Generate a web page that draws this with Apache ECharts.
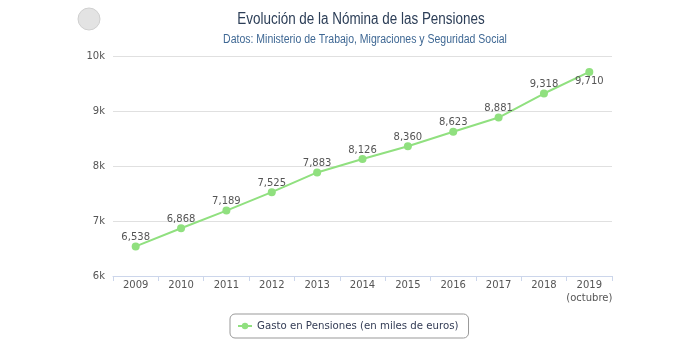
<!DOCTYPE html>
<html>
<head>
<meta charset="UTF-8">
<title>Nómina de las Pensiones</title>
<script src="https://cdn.jsdelivr.net/npm/echarts@6/dist/echarts.min.js"></script>
<style>
  body { margin: 0; background: #fff; }
  #main { width: 683px; height: 350px; }
</style>
</head>
<body>
<div id="main"></div>
<script>
var years = ['2009', '2010', '2011', '2012', '2013', '2014', '2015', '2016', '2017', '2018', '2019\n(octubre)'];
var gasto = [6538, 6868, 7189, 7525, 7883, 8126, 8360, 8623, 8881, 9318, 9710];
var yTicks = [6000, 7000, 8000, 9000, 10000];

var chart = echarts.init(document.getElementById('main'));

// el ultimo valor lleva la etiqueta debajo
var seriesData = gasto.map(function (v, i) {
  if (i === gasto.length - 1) {
    return { value: v, label: { position: 'bottom', distance: 0 } };
  }
  return v;
});

chart.setOption({
  animation: false,
  // titulos como texto estrechado (la fuente original es condensada)
  graphic: [{
    type: 'circle',
    shape: { cx: 89, cy: 19, r: 11 },
    style: { fill: '#e3e3e3', stroke: '#cfcfcf' }
  }, {
    type: 'text',
    x: 361, y: 20, scaleX: 0.84,
    style: {
      text: 'Evolución de la Nómina de las Pensiones',
      font: '16px "Liberation Sans"', fill: '#2c3e57',
      align: 'center', verticalAlign: 'middle'
    }
  }, {
    type: 'text',
    x: 365, y: 40, scaleX: 0.875,
    style: {
      text: 'Datos: Ministerio de Trabajo, Migraciones y Seguridad Social',
      font: '12px "Liberation Sans"', fill: '#3f6894',
      align: 'center', verticalAlign: 'middle'
    }
  }],
  legend: {
    bottom: 12,
    left: 230,
    itemWidth: 14,
    itemHeight: 8,
    itemGap: 5,
    padding: [7, 10, 7, 7],
    borderColor: '#999',
    borderWidth: 1,
    borderRadius: 5,
    textStyle: { fontFamily: 'DejaVu Sans', fontSize: 10.2, color: '#333c55' }
  },
  grid: { left: 113, right: 71, top: 56, bottom: 74 },
  xAxis: {
    type: 'category',
    data: years,
    boundaryGap: true,
    axisLine: { lineStyle: { color: '#ccd6eb' } },
    axisTick: { show: true, lineStyle: { color: '#ccd6eb' }, length: 5 },
    axisLabel: { fontFamily: 'DejaVu Sans', fontSize: 10, color: '#555', margin: 3, lineHeight: 13, interval: 0 }
  },
  yAxis: {
    type: 'value',
    min: 6000,
    max: 10000,
    interval: 1000,
    axisLine: { show: false },
    axisTick: { show: false },
    splitLine: { lineStyle: { color: '#e0e0e0' } },
    axisLabel: {
      fontFamily: 'DejaVu Sans', fontSize: 10, color: '#555', margin: 8,
      formatter: function (v) { return yTicks.indexOf(v) >= 0 ? (v / 1000) + 'k' : ''; }
    }
  },
  series: [{
    name: 'Gasto en Pensiones (en miles de euros)',
    type: 'line',
    data: seriesData,
    symbol: 'circle',
    symbolSize: 8,
    lineStyle: { color: '#90e07f', width: 2 },
    itemStyle: { color: '#90e07f' },
    label: {
      show: true,
      position: 'top',
      distance: 0,
      fontFamily: 'DejaVu Sans',
      fontSize: 10,
      color: '#555',
      formatter: function (p) { return p.value.toLocaleString('en-US'); }
    }
  }]
});
</script>
</body>
</html>
